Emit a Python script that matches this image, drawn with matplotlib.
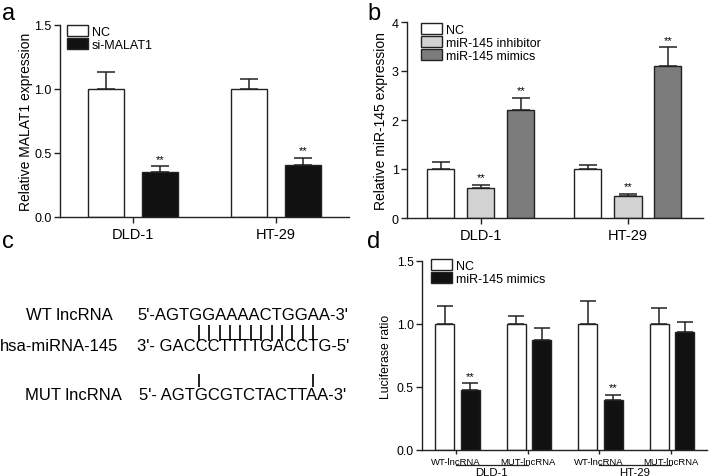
import numpy as np
import matplotlib
matplotlib.use("Agg")
import matplotlib.pyplot as plt
import matplotlib.transforms as mtransforms

plt.rcParams['font.family'] = ['Liberation Sans', 'DejaVu Sans']

# ------------ DONNÉES ------------
# panel a
a_groups = ["DLD-1", "HT-29"]
a_nc = [1.0, 1.0]
a_nc_err = [0.13, 0.08]
a_si = [0.35, 0.41]
a_si_err = [0.045, 0.05]

# panel b
b_groups = ["DLD-1", "HT-29"]
b_nc = [1.0, 1.0]
b_nc_err = [0.15, 0.09]
b_inh = [0.62, 0.44]
b_inh_err = [0.055, 0.05]
b_mim = [2.21, 3.10]
b_mim_err = [0.24, 0.38]

# panel c
c_labels = ["WT lncRNA", "hsa-miRNA-145", "MUT lncRNA"]
c_seqs = ["5'-AGTGGAAAACTGGAA-3'", "3'- GACCCTTTTGACCTG-5'", "5'- AGTGCGTCTACTTAA-3'"]

# panel d
d_ticks = ["WT-lncRNA", "MUT-lncRNA", "WT-lncRNA", "MUT-lncRNA"]
d_cells = ["DLD-1", "HT-29"]
d_nc = [1.0, 1.0, 1.0, 1.0]
d_nc_err = [0.14, 0.06, 0.18, 0.13]
d_mim = [0.475, 0.875, 0.395, 0.935]
d_mim_err = [0.055, 0.09, 0.045, 0.08]
# ---------------------------------

W, H = 709, 477
fig = plt.figure(figsize=(W / 100, H / 100), dpi=100)
EDGE = "#222222"


def box(l, t, r, b):
    return [l / W, (H - b) / H, (r - l) / W, (b - t) / H]


def style(ax, ytick_fs):
    for s in ("top", "right"):
        ax.spines[s].set_visible(False)
    for s in ("left", "bottom"):
        ax.spines[s].set_linewidth(1.0)
        ax.spines[s].set_color(EDGE)
    ax.tick_params(axis="y", length=4, width=1.0, labelsize=ytick_fs, pad=2, color=EDGE)
    ax.tick_params(axis="x", length=4, width=1.0, color=EDGE)


def bars(ax, x, vals, errs, color, width, cap=6.5):
    h = ax.bar(x, vals, width, color=color, edgecolor=EDGE, linewidth=1.0, zorder=2)
    ax.errorbar(x, vals, yerr=[np.zeros(len(vals)), errs], fmt="none",
                ecolor=EDGE, elinewidth=1.1, capsize=cap, capthick=1.1, zorder=1)
    return h


def stars(ax, x, vals, errs, gap):
    for xi, v, e in zip(x, vals, errs):
        ax.text(xi, v + e + gap, "**", ha="center", va="bottom", fontsize=8)


def legend_at(ax, handles, labels, left, top, fs):
    ax.legend(handles, labels, loc="upper left",
              bbox_to_anchor=(left / W, 1 - top / H), bbox_transform=fig.transFigure,
              frameon=False, fontsize=fs, borderpad=0, borderaxespad=0,
              handlelength=1.7, handleheight=1.0, handletextpad=0.3, labelspacing=0.0)


# ---------- a ----------
ax = fig.add_axes(box(60, 26, 349, 218))
xa = np.arange(len(a_groups))
ax.set_ylim(0, 1.5)
ax.set_xlim(-0.51, 1.51)
h1 = bars(ax, xa - 0.19, a_nc, a_nc_err, "white", 0.25)
h2 = bars(ax, xa + 0.19, a_si, a_si_err, "#111111", 0.25)
stars(ax, xa + 0.19, a_si, a_si_err, 0.02)
ax.set_yticks([0.0, 0.5, 1.0, 1.5])
ax.set_yticklabels(["0.0", "0.5", "1.0", "1.5"])
ax.set_xticks(xa)
ax.set_xticklabels(a_groups, fontsize=10.5)
ax.set_ylabel("Relative MALAT1 expression", fontsize=10, labelpad=1)
style(ax, 9)
legend_at(ax, [h1, h2], ["NC", "si-MALAT1"], 67, 26, 9)

# ---------- b ----------
ax = fig.add_axes(box(407, 23, 703, 219))
xb = np.arange(len(b_groups))
ax.set_ylim(0, 4)
ax.set_xlim(-0.503, 1.51)
wb = 0.184
hb = [bars(ax, xb - 0.273, b_nc, b_nc_err, "white", wb),
      bars(ax, xb, b_inh, b_inh_err, "#d2d2d2", wb),
      bars(ax, xb + 0.27, b_mim, b_mim_err, "#7c7c7c", wb)]
stars(ax, xb, b_inh, b_inh_err, 0.05)
stars(ax, xb + 0.27, b_mim, b_mim_err, 0.05)
ax.set_yticks([0, 1, 2, 3, 4])
ax.set_xticks(xb)
ax.set_xticklabels(b_groups, fontsize=10.5)
ax.set_ylabel("Relative miR-145 expression", fontsize=10, labelpad=3)
style(ax, 9)
legend_at(ax, hb, ["NC", "miR-145 inhibitor", "miR-145 mimics"], 421, 24, 9)

# ---------- d ----------
ax = fig.add_axes(box(422, 262, 707, 451))
xd = np.arange(len(d_ticks))
ax.set_ylim(0, 1.5)
ax.set_xlim(-0.476, 3.51)
wd = 0.265
hd1 = bars(ax, xd - 0.16, d_nc, d_nc_err, "white", wd, cap=5.5)
hd2 = bars(ax, xd + 0.2, d_mim, d_mim_err, "#111111", wd, cap=5.5)
stars(ax, [xd[0] + 0.2, xd[2] + 0.2], [d_mim[0], d_mim[2]], [d_mim_err[0], d_mim_err[2]], 0.02)
ax.set_yticks([0.0, 0.5, 1.0, 1.5])
ax.set_yticklabels(["0.0", "0.5", "1.0", "1.5"])
ax.set_xticks(xd)
ax.set_xticklabels(d_ticks, fontsize=6.8)
ax.set_ylabel("Luciferase ratio", fontsize=8.8, labelpad=3)
style(ax, 8.8)
ax.tick_params(axis="x", length=3, pad=2)
trans = mtransforms.blended_transform_factory(ax.transData, ax.transAxes)
for k, name in enumerate(d_cells):
    x0, x1 = xd[2 * k], xd[2 * k + 1]
    ax.plot([x0, x1], [-0.077, -0.077], transform=trans, clip_on=False, color=EDGE, lw=0.9)
    ax.text((x0 + x1) / 2, -0.13, name, transform=trans, ha="center", va="baseline", fontsize=8.2)
legend_at(ax, [hd1, hd2], ["NC", "miR-145 mimics"], 431, 260, 9)

# ---------- c + lettres ----------
ov = fig.add_axes([0, 0, 1, 1], zorder=-1)
ov.set_xlim(0, W)
ov.set_ylim(H, 0)
ov.axis("off")
for lab, x, y in [("a", 2, 20), ("b", 367, 20), ("c", 2, 248), ("d", 367, 248)]:
    ov.text(x, y, lab, fontsize=17, ha="left", va="baseline")

rows_y = [316, 347, 396]
lab_right = [113, 118, 122]
seq_left = [137, 137, 139]
for lab, seq, y, xr, xl in zip(c_labels, c_seqs, rows_y, lab_right, seq_left):
    ov.text(xr, y, lab, fontsize=12, ha="right", va="center")
    ov.text(xl, y, seq, fontsize=12, ha="left", va="center")
pair_x = np.linspace(199, 313, 12)
ov.vlines(pair_x, 326, 342, color=EDGE, lw=1.4)
ov.vlines([199, 313], 375, 388, color=EDGE, lw=1.4)

fig.savefig("out.png", dpi=100)
